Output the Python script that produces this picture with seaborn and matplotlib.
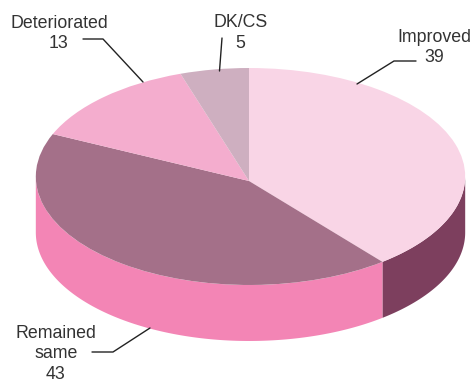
import numpy as np
import matplotlib
matplotlib.use("Agg")
import matplotlib.pyplot as plt
from matplotlib.transforms import Transform
import seaborn as sns

sns.set_theme(style="white")
plt.rcParams['font.family'] = ['Liberation Sans', 'DejaVu Sans']

categories = ["Improved", "Remained same", "Deteriorated", "DK/CS"]
values = [39, 43, 13, 5]
top_colors = ["#F9D5E6", "#A47089", "#F4ADCE", "#CEAFC0"]
side_colors = ["#7D3F5E", "#F385B5", "#F4ADCE", "#CEAFC0"]
label_texts = ["Improved\n39", "Remained\nsame\n43", "Deteriorated\n13", "DK/CS\n5"]

W, H = 472, 385
cx, cy = 249, 181
a_right, a_left, b, k = 216, 213, 108.3, -0.0415
depth = 56


class Tilt(Transform):
    """Unit-circle pie coordinates to picture pixels, with the tilt of the disc."""
    input_dims = output_dims = 2

    def transform_non_affine(self, xy):
        xy = np.asarray(xy, float)
        den = 1 + k * xy[:, 1]
        a = np.where(xy[:, 0] >= 0, a_right, a_left)
        return np.column_stack([cx + a * xy[:, 0] / den, cy - b * xy[:, 1] / den])


tilt = Tilt()
fig = plt.figure(figsize=(W / 100, H / 100), dpi=100)
ax = fig.add_axes([0, 0, 1, 1])

fractions = np.array(values) / sum(values)
edges = np.concatenate([[0], np.cumsum(fractions)]) * 2 * np.pi  # clockwise from 12 o'clock

# side wall: from the widest point on the right round the front to the widest on the left
grid = np.linspace(0, 2 * np.pi, 1441)
grid_x = tilt.transform_non_affine(np.column_stack([np.sin(grid), np.cos(grid)]))[:, 0]
wall_lo, wall_hi = grid[np.argmax(grid_x)], grid[np.argmin(grid_x)]
for i in range(len(values)):
    lo, hi = max(edges[i], wall_lo), min(edges[i + 1], wall_hi)
    if hi > lo:
        t = np.linspace(lo, hi, 300)
        p = tilt.transform_non_affine(np.column_stack([np.sin(t), np.cos(t)]))
        ax.fill(np.r_[p[:, 0], p[::-1, 0]], np.r_[p[:, 1], p[::-1, 1] + depth],
                color=side_colors[i], lw=0, zorder=1)

# top face
wedges, _ = ax.pie(values, colors=top_colors, startangle=90, counterclock=False, radius=1,
                   wedgeprops=dict(lw=0, zorder=2))
for w in wedges:
    w.set_transform(tilt + ax.transData)
    w.set_clip_on(False)

ax.set_aspect("auto")
ax.set_xlim(0, W)
ax.set_ylim(H, 0)
ax.axis("off")

# labels and leader lines
text_pos = [(434, 47.5), (56, 354), (59, 33.5), (240.5, 33)]
leaders = [
    [(357, 84), (394, 61), (416, 61)],
    [(150, 328), (113, 352), (92, 352)],
    [(143, 82), (103, 39), (83, 39)],
    [(219.5, 71), (222, 38)],
]
for s, p, l in zip(label_texts, text_pos, leaders):
    ax.text(*p, s, ha="center", va="center", fontsize=12.8, color="#333333",
            linespacing=1.28, zorder=5)
    xs, ys = zip(*l)
    ax.plot(xs, ys, color="#222222", lw=1, zorder=4)

fig.savefig("out.png", dpi=100)
